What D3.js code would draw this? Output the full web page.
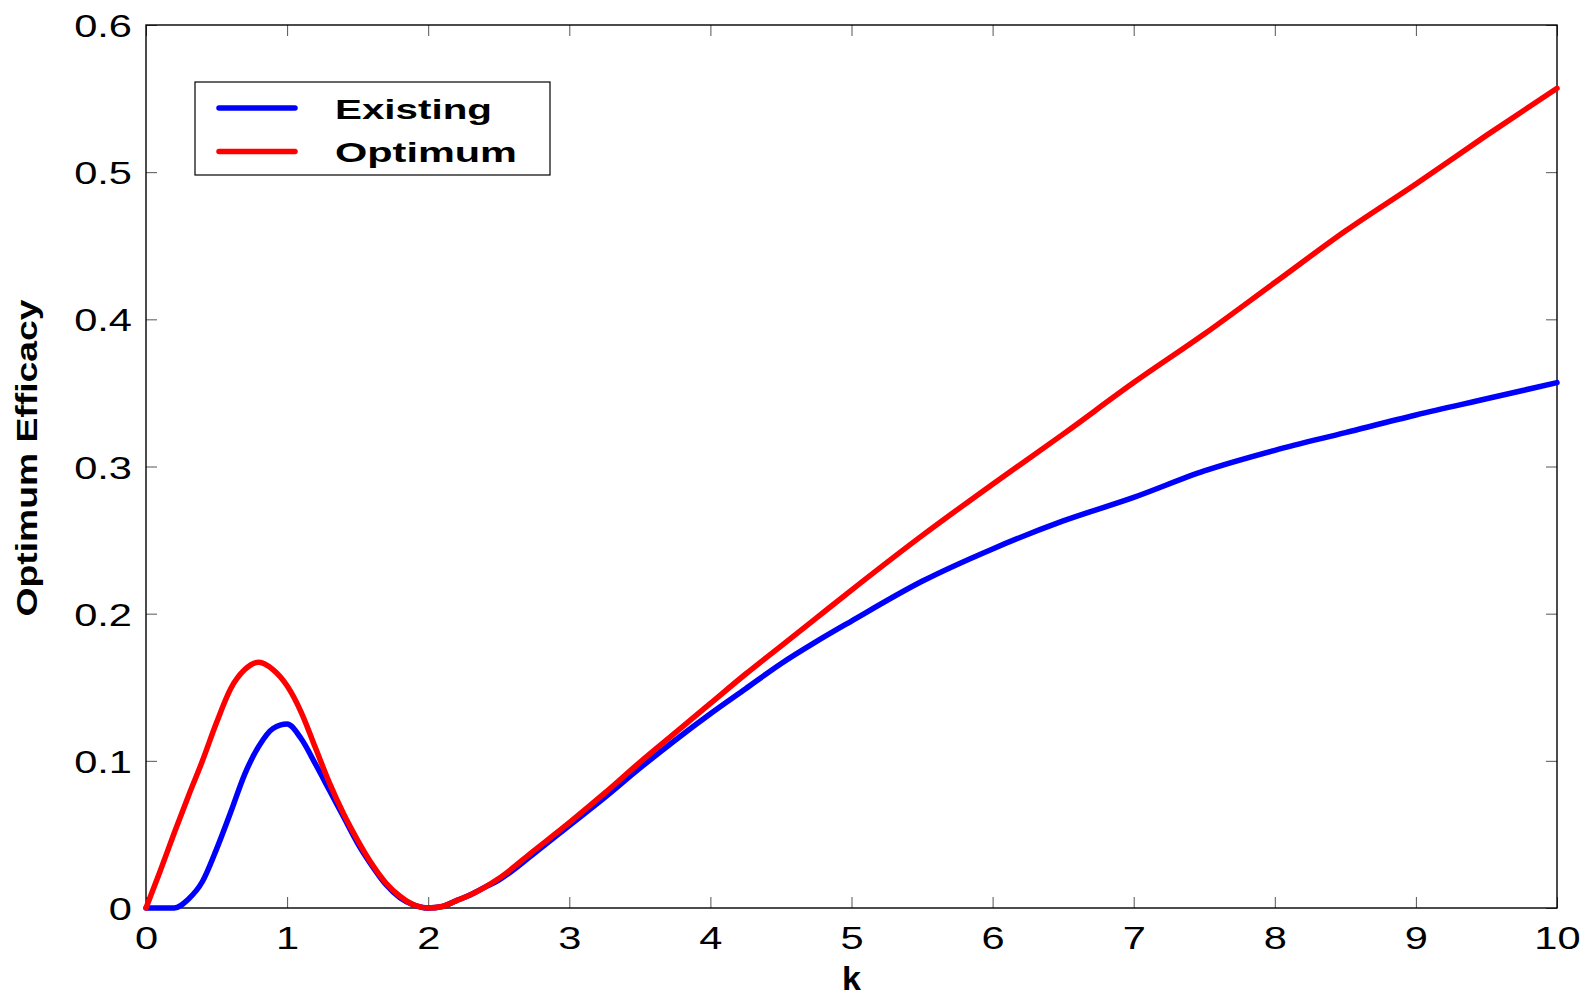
<!DOCTYPE html>
<html>
<head>
<meta charset="utf-8">
<script src="https://cdn.jsdelivr.net/npm/d3@7"></script>
<style>
  body { margin: 0; background: #fff; }
  svg { display: block; font-family: "Liberation Sans", Arial, sans-serif; }
</style>
</head>
<body>
<svg id="chart" width="1585" height="998"></svg>
<script>
// k values
const kValues = [0, 0.1, 0.2, 0.3, 0.4, 0.5, 0.6, 0.7, 0.8, 0.9, 1.0, 1.1, 1.2, 1.3, 1.4, 1.5,
  1.6, 1.7, 1.8, 1.9, 2.0, 2.1, 2.2, 2.3, 2.4, 2.5, 2.75, 3.0, 3.25, 3.5, 3.75, 4.0, 4.25,
  4.5, 4.75, 5.0, 5.5, 6.0, 6.5, 7.0, 7.5, 8.0, 8.5, 9.0, 9.5, 10];

const existing = [0, 0, 0, 0.006, 0.018, 0.040, 0.065, 0.091, 0.110, 0.122, 0.125, 0.115, 0.098,
  0.080, 0.062, 0.044, 0.029, 0.016, 0.007, 0.002, 0, 0.001, 0.005, 0.009, 0.014, 0.019, 0.037,
  0.056, 0.075, 0.095, 0.114, 0.132, 0.149, 0.166, 0.181, 0.195, 0.222, 0.244, 0.263, 0.279,
  0.297, 0.311, 0.323, 0.335, 0.346, 0.357];

const optimum = [0, 0.025, 0.051, 0.076, 0.100, 0.126, 0.149, 0.162, 0.167, 0.162, 0.151, 0.133,
  0.109, 0.085, 0.064, 0.046, 0.030, 0.017, 0.008, 0.002, 0, 0.001, 0.005, 0.009, 0.014, 0.020,
  0.039, 0.058, 0.078, 0.099, 0.119, 0.139, 0.159, 0.178, 0.197, 0.216, 0.253, 0.288, 0.322,
  0.357, 0.390, 0.425, 0.460, 0.492, 0.525, 0.557];

const xTicks = [0, 1, 2, 3, 4, 5, 6, 7, 8, 9, 10];
const yTicks = [0, 0.1, 0.2, 0.3, 0.4, 0.5, 0.6];
const seriesNames = ["Existing", "Optimum"];
const seriesColors = ["#0000ff", "#ff0000"];

const margin = { left: 146, top: 25, right: 28, bottom: 90 };
const W = 1585, H = 998;
const w = W - margin.left - margin.right;
const h = H - margin.top - margin.bottom;

const svg = d3.select("#chart");
const g = svg.append("g").attr("transform", `translate(${margin.left},${margin.top})`);

const x = d3.scaleLinear().domain([0, 10]).range([0, w]);
const y = d3.scaleLinear().domain([0, 0.6]).range([h, 0]);

const tickLen = 11;
const stretch = 1.3; // tick labels look horizontally widened

// bottom axis (ticks inward)
const xAxis = g.append("g").attr("transform", `translate(0,${h})`)
  .call(d3.axisBottom(x).tickValues(xTicks).tickSize(-tickLen).tickFormat(d3.format("d")));
xAxis.select(".domain").remove();
xAxis.selectAll("line").attr("stroke", "#555");
xAxis.selectAll("text")
  .attr("y", 41).attr("dy", 0)
  .attr("font-size", 32).attr("fill", "#000")
  .attr("transform", `scale(${stretch},1)`);

// top mirror ticks
g.append("g").call(d3.axisTop(x).tickValues(xTicks).tickSize(-tickLen).tickFormat(""))
  .call(a => a.select(".domain").remove())
  .selectAll("line").attr("stroke", "#555");

// left axis
const yAxis = g.append("g")
  .call(d3.axisLeft(y).tickValues(yTicks).tickSize(-tickLen).tickFormat(d => d === 0 ? "0" : d3.format(".1f")(d)));
yAxis.select(".domain").remove();
yAxis.selectAll("line").attr("stroke", "#555");
yAxis.selectAll("text")
  .attr("x", -14 / stretch).attr("dy", "0.36em")
  .attr("font-size", 32).attr("fill", "#000")
  .attr("transform", `scale(${stretch},1)`);

// right mirror ticks
g.append("g").attr("transform", `translate(${w},0)`)
  .call(d3.axisRight(y).tickValues(yTicks).tickSize(-tickLen).tickFormat(""))
  .call(a => a.select(".domain").remove())
  .selectAll("line").attr("stroke", "#555");

// frame
g.append("rect").attr("width", w).attr("height", h)
  .attr("fill", "none").attr("stroke", "#000").attr("stroke-width", 1.4);

// curves
const line = d3.line()
  .x((d, i) => x(kValues[i]))
  .y(d => y(d))
  .curve(d3.curveMonotoneX);

[existing, optimum].forEach((vals, i) => {
  g.append("path")
    .datum(vals)
    .attr("d", line)
    .attr("fill", "none")
    .attr("stroke", seriesColors[i])
    .attr("stroke-width", 5.5)
    .attr("stroke-linejoin", "round")
    .attr("stroke-linecap", "round");
});

// axis labels
svg.append("text")
  .attr("x", margin.left + w / 2).attr("y", 990)
  .attr("text-anchor", "middle")
  .attr("font-size", 34).attr("font-weight", "bold")
  .text("k");

svg.append("text")
  .attr("transform", "translate(37,458) rotate(-90)")
  .attr("text-anchor", "middle")
  .attr("font-size", 30).attr("font-weight", "bold")
  .attr("textLength", 317).attr("lengthAdjust", "spacingAndGlyphs")
  .text("Optimum Efficacy");

// legend
const legend = svg.append("g");
legend.append("rect")
  .attr("x", 195).attr("y", 82).attr("width", 355).attr("height", 93)
  .attr("fill", "#fff").attr("stroke", "#000").attr("stroke-width", 1.2);

const legendLens = [157, 182];
seriesNames.forEach((name, i) => {
  const ly = 108 + i * 43.5;
  legend.append("line")
    .attr("x1", 219).attr("x2", 295).attr("y1", ly).attr("y2", ly)
    .attr("stroke", seriesColors[i]).attr("stroke-width", 5.5)
    .attr("stroke-linecap", "round");
  legend.append("text")
    .attr("x", 335).attr("y", ly + 10.5)
    .attr("font-size", 28).attr("font-weight", "bold")
    .attr("textLength", legendLens[i]).attr("lengthAdjust", "spacingAndGlyphs")
    .text(name);
});
</script>
</body>
</html>
